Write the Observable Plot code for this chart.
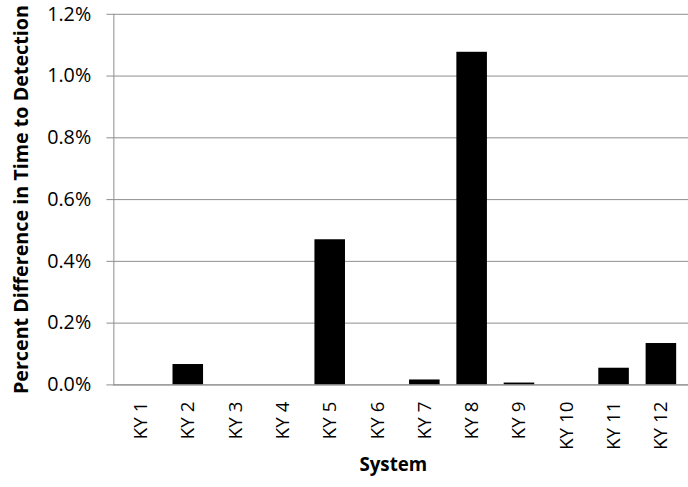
<!DOCTYPE html>
<html>
<head>
<meta charset="utf-8">
<script src="https://cdn.jsdelivr.net/npm/d3@7"></script>
<script src="https://cdn.jsdelivr.net/npm/@observablehq/plot@0.6"></script>
<style>
  html, body { margin: 0; padding: 0; background: #fff; overflow: hidden; width: 688px; height: 487px; }
  #chart { width: 688px; height: 487px; overflow: hidden; }
</style>
</head>
<body>
<div id="chart"></div>
<script>
const systems = ["KY 1","KY 2","KY 3","KY 4","KY 5","KY 6","KY 7","KY 8","KY 9","KY 10","KY 11","KY 12"];
const pctDiff = [0, 0.066, 0, 0, 0.47, 0, 0.016, 1.077, 0.006, 0, 0.054, 0.134];
const yTicks = [0, 0.2, 0.4, 0.6, 0.8, 1.0, 1.2];
const yTitle = "Percent Difference in Time to Detection";
const xTitle = "System";

const data = systems.map((s, i) => ({system: s, value: pctDiff[i]}));
const font = "'Open Sans', 'DejaVu Sans', sans-serif";
const gray = "#8c8c8c";

const chart = Plot.plot({
  width: 698,
  height: 487,
  marginTop: 14,
  marginBottom: 97,
  marginLeft: 115,
  marginRight: 0,
  style: {fontFamily: font, background: "#fff", color: "#000"},
  x: {domain: systems, paddingInner: 0.36, paddingOuter: 0.18, label: null},
  y: {domain: [0, 1.2], label: null},
  marks: [
    Plot.gridY(yTicks, {stroke: gray, strokeOpacity: 1, strokeWidth: 1}),
    Plot.barY(data, {x: "system", y: "value", fill: "#000"}),
    Plot.ruleY([0], {stroke: gray, strokeWidth: 1}),
    Plot.frame({anchor: "left", stroke: gray, strokeWidth: 1}),
    Plot.axisY(yTicks, {
      tickSize: 7, tickPadding: 16, stroke: gray, strokeOpacity: 1,
      tickFormat: d => d.toFixed(1) + "%", fontSize: 20, fill: "#000", label: null
    }),
    Plot.axisX({
      tickSize: 0, tickRotate: -90, tickPadding: 17, fontSize: 19, fill: "#000", label: null
    }),
    Plot.text([xTitle], {frameAnchor: "bottom", lineAnchor: "middle", textAnchor: "middle", dy: 81, dx: -8, fontSize: 19, fontWeight: "bold", fill: "#000", text: d => d}),
    Plot.text([yTitle], {frameAnchor: "left", textAnchor: "middle", lineAnchor: "middle", rotate: -90, dx: -93, fontSize: 20, fontWeight: "bold", fill: "#000", text: d => d})
  ]
});
document.getElementById("chart").appendChild(chart);
</script>
</body>
</html>
